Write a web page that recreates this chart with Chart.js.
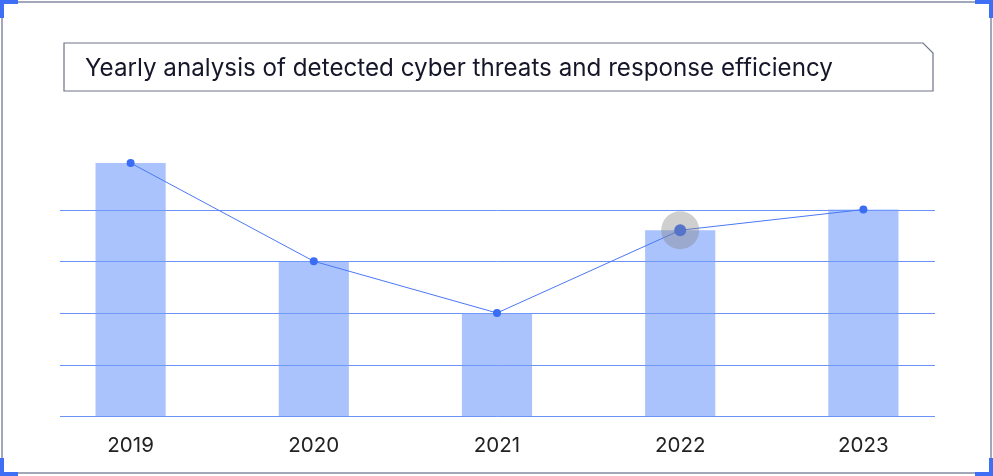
<!DOCTYPE html>
<html>
<head>
<meta charset="utf-8">
<script src="https://cdn.jsdelivr.net/npm/chart.js@4.4.1/dist/chart.umd.min.js"></script>
<style>
  body { margin: 0; background: #fff; font-family: Inter, "Noto Sans", sans-serif; }
  #wrap { position: relative; width: 993px; height: 476px; overflow: hidden; }
  #frame { position: absolute; left: 1px; top: 1px; width: 987px; height: 469px; border: 2px solid #a3a7ba; }
  .corner { position: absolute; width: 14px; height: 14px; border-color: #3f6ff5; border-style: solid; border-width: 0; }
  #c { position: absolute; left: 0; top: 0; }
  #title { position: absolute; left: 63px; top: 42px; width: 872px; height: 50px; }
  #title svg { position: absolute; left: 0; top: 0; }
  #title span { position: absolute; left: 22px; top: 11px; font-size: 24.2px; color: #16162a; white-space: nowrap; }
</style>
</head>
<body>
<div id="wrap">
  <div id="frame"></div>
  <div class="corner" style="left:0;top:0;border-left-width:4px;border-top-width:4px;"></div>
  <div class="corner" style="right:0;top:0;border-right-width:4px;border-top-width:4px;"></div>
  <div class="corner" style="left:0;bottom:0;border-left-width:4px;border-bottom-width:4px;"></div>
  <div class="corner" style="right:0;bottom:0;border-right-width:4px;border-bottom-width:4px;"></div>
  <canvas id="c" width="993" height="476"></canvas>
  <div id="title">
    <svg width="872" height="50"><polygon points="1,1 860,1 870,11 870,49 1,49" fill="#fff" stroke="#6f7488" stroke-width="1.2"/></svg>
    <span>Yearly analysis of detected cyber threats and response efficiency</span>
  </div>
</div>
<script>
// chart data
const years = ["2019", "2020", "2021", "2022", "2023"];
const threats = [4.9, 3, 2, 3.6, 4];
const efficiency = [4.9, 3, 2, 3.6, 4];
const hoverIndex = 3;

// horizontal grid lines on whole steps, a bit narrower than the plot
const gridLines = {
  id: "gridLines",
  beforeDatasetsDraw(chart) {
    const { ctx, chartArea, scales } = chart;
    ctx.save();
    ctx.strokeStyle = "#6a92f8";
    ctx.lineWidth = 1;
    scales.y.ticks.forEach(t => {
      if (!Number.isInteger(t.value)) return;
      const y = Math.round(scales.y.getPixelForValue(t.value)) + 0.5;
      ctx.beginPath();
      ctx.moveTo(chartArea.left + 21, y);
      ctx.lineTo(chartArea.right - 20, y);
      ctx.stroke();
    });
    ctx.restore();
  }
};

// grey halo on hovered point
const halo = {
  id: "halo",
  afterDatasetDraw(chart, args) {
    if (args.index !== 0) return;
    const { ctx, scales } = chart;
    const x = scales.x.getPixelForValue(hoverIndex);
    const y = scales.y.getPixelForValue(efficiency[hoverIndex]);
    ctx.save();
    ctx.fillStyle = "rgba(130,130,130,0.38)";
    ctx.beginPath();
    ctx.arc(x, y, 19, 0, Math.PI * 2);
    ctx.fill();
    ctx.restore();
  }
};

new Chart(document.getElementById("c"), {
  data: {
    labels: years,
    datasets: [
      {
        type: "line",
        data: efficiency,
        borderColor: "#4a78f6",
        borderWidth: 1,
        pointRadius: efficiency.map((v, i) => i === hoverIndex ? 6 : 4),
        pointBackgroundColor: "#3a6cf5",
        pointBorderWidth: 0,
        clip: false,
        order: 0
      },
      {
        type: "bar",
        data: threats,
        backgroundColor: "rgba(118,158,250,0.62)",
        barPercentage: 0.383,
        categoryPercentage: 1,
        order: 1
      }
    ]
  },
  options: {
    responsive: false,
    animation: false,
    events: [],
    layout: { padding: { left: 39, right: 38, top: 163, bottom: 9 } },
    plugins: { legend: { display: false }, tooltip: { enabled: false } },
    scales: {
      x: {
        grid: { display: false },
        border: { display: false },
        ticks: { color: "#222", font: { family: "Inter", size: 20.5 }, padding: 9 }
      },
      y: {
        display: false,
        min: 0,
        max: 4.9,
        ticks: { stepSize: 1 }
      }
    }
  },
  plugins: [gridLines, halo]
});
</script>
</body>
</html>
